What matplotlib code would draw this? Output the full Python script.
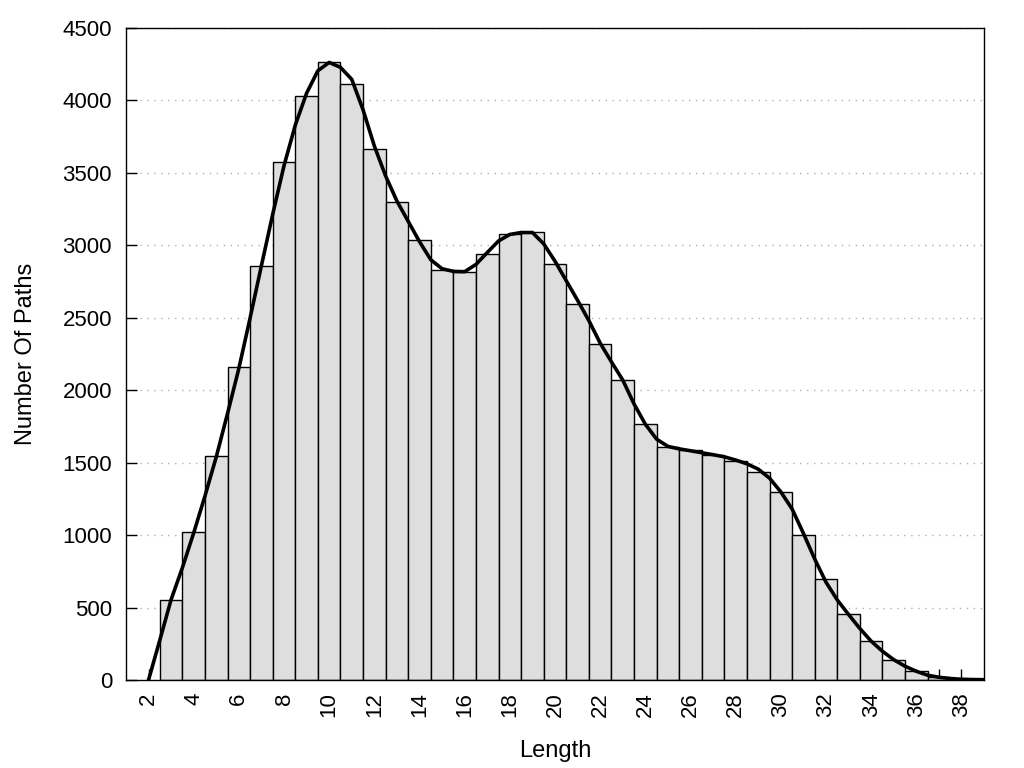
import numpy as np
import matplotlib
matplotlib.use("Agg")
import matplotlib.pyplot as plt

plt.rcParams['font.family'] = ['Liberation Sans', 'DejaVu Sans']

# histogram: path length -> number of paths
lengths = list(range(3, 39))
counts = [550, 1020, 1545, 2160, 2856, 3576, 4027, 4262, 4112, 3667,
          3301, 3039, 2831, 2817, 2942, 3080, 3094, 2873, 2595, 2320,
          2071, 1767, 1610, 1585, 1553, 1509, 1435, 1296, 1004, 696,
          454, 272, 136, 62, 23, 6]

# smoothed density curve, read every half step from 2 to 39
curve_x = np.arange(2, 39.01, 0.5)
curve_y = [0, 275, 555, 775, 1015, 1270, 1540, 1840, 2150, 2500,
           2860, 3215, 3550, 3830, 4050, 4205, 4262, 4228, 4145, 3935,
           3685, 3478, 3305, 3165, 3025, 2900, 2838, 2820, 2818, 2868,
           2950, 3030, 3075, 3088, 3088, 3010, 2890, 2755, 2620, 2480,
           2325, 2195, 2070, 1905, 1765, 1662, 1612, 1595, 1582, 1568,
           1555, 1540, 1518, 1492, 1455, 1393, 1298, 1180, 1012, 835,
           675, 552, 452, 355, 268, 198, 140, 95, 60, 33,
           19, 10, 5, 3, 2]

xticks = list(range(2, 39, 2))

fig = plt.figure(figsize=(10.24, 7.68), dpi=100)
ax = fig.add_axes([0.123, 0.1146, 0.838, 0.849])

ax.bar(lengths, counts, width=1.0, color='#dedede', edgecolor='black',
       linewidth=1.0, zorder=2)
ax.plot(curve_x, curve_y, color='black', linewidth=2.6, zorder=3,
        solid_joinstyle='round')

ax.set_xlim(1, 39)
ax.set_ylim(0, 4500)
ax.set_xticks(range(2, 39))
ax.set_xticklabels([str(v) if v in xticks else '' for v in range(2, 39)],
                   rotation=90)
ax.set_yticks(range(0, 4501, 500))

ax.set_axisbelow(True)
ax.yaxis.grid(True, linestyle=(0, (1, 4)), color='#b0b0b0', linewidth=1.0)
ax.tick_params(direction='in', length=8, width=1, labelsize=16,
               top=False, right=False)
ax.tick_params(axis='x', pad=9)
ax.tick_params(axis='y', pad=10)
for s in ax.spines.values():
    s.set_linewidth(1.0)

ax.set_xlabel('Length', fontsize=17, labelpad=16)
ax.set_ylabel('Number Of Paths', fontsize=17, labelpad=18)

fig.savefig('out.png', dpi=100)
